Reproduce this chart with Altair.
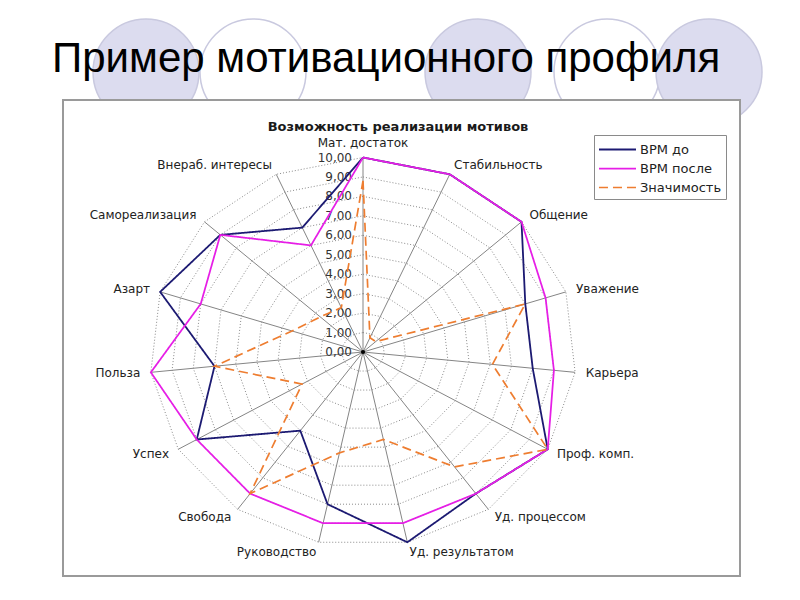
import altair as alt
import pandas as pd

# ---------------- data ----------------
categories = ["Мат. достаток", "Стабильность", "Общение", "Уважение", "Карьера",
              "Проф. комп.", "Уд. процессом", "Уд. результатом", "Руководство",
              "Свобода", "Успех", "Польза", "Азарт", "Самореализация",
              "Внераб. интересы"]
vrm_do = [10, 10, 10, 8, 8, 10, 9, 10, 8, 5, 9, 7, 10, 9, 7]
vrm_posle = [10, 10, 10, 9, 9, 10, 9, 9, 9, 9, 9, 10, 8, 9, 6]
znachimost = [8.8, 0.8, 0.8, 8.0, 6.1, 10, 7.3, 4.6, 5.3, 9.0, 3.3, 7.0, 3.5, 2.7, 2.5]
series_names = ["ВРМ до", "ВРМ после", "Значимость"]
series_colors = ["#1c1a72", "#e61ee6", "#ee7d30"]
tick_values = list(range(0, 11))
ring_levels = list(range(1, 11))
slide_title = "Пример мотивационного профиля"
chart_title = "Возможность реализации мотивов"

N = len(categories)
FONT = "DejaVu Sans"

# ---------------- tables ----------------
line_rows = []
for s, vals in zip(series_names, [vrm_do, vrm_posle, znachimost]):
    for i in range(N + 1):
        k = i % N
        line_rows.append({"series": s, "order": i, "k": k, "value": vals[k]})
lines_df = pd.DataFrame(line_rows)

ring_rows = []
for r in ring_levels:
    for i in range(N + 1):
        ring_rows.append({"ring": r, "order": i, "k": i % N, "value": r})
rings_df = pd.DataFrame(ring_rows)

spokes_df = pd.DataFrame({"k": list(range(N)), "value": [max(ring_levels)] * N})
labels_df = pd.DataFrame({"k": list(range(N)), "name": categories})
ticks_df = pd.DataFrame({"value": tick_values})
center_df = pd.DataFrame({"value": [0]})

W, H = 677, 476
xs = alt.Scale(domain=[-300 / 21.33, (W - 300) / 21.33], nice=False, zero=False)
ys = alt.Scale(domain=[-(H - 252) / 19.45, 252 / 19.45], nice=False, zero=False)

ANG = "datum.k * 2 * PI / 15"


def polar(ch, rexpr="datum.value"):
    return ch.transform_calculate(
        px=f"({rexpr}) * sin({ANG})",
        py=f"({rexpr}) * cos({ANG})",
    )


X = alt.X("px:Q", scale=xs, axis=None)
Y = alt.Y("py:Q", scale=ys, axis=None)

# decorative slide circles (background only)
deco = []
for cx, filled in [(83, True), (190, False), (415, True), (544, False), (646, True)]:
    deco.append(
        alt.Chart(center_df).mark_point(
            shape="circle", size=11236, filled=filled,
            fill="#dcdcef" if filled else None,
            stroke="#c9c9df", strokeWidth=1.5, opacity=1,
        ).encode(x=alt.value(cx), y=alt.value(-28))
    )

frame = alt.Chart(center_df).mark_rect(
    fill="white", stroke="#9a9a9a", strokeWidth=2
).encode(x=alt.value(0), x2=alt.value(W), y=alt.value(0), y2=alt.value(H))

title_txt = alt.Chart(center_df).mark_text(
    text=slide_title, font="Liberation Sans", fontSize=42, align="left",
    baseline="alphabetic", color="black"
).encode(x=alt.value(-11), y=alt.value(-28))

chart_title_txt = alt.Chart(center_df).mark_text(
    text=chart_title, font=FONT, fontSize=13, fontWeight="bold",
    align="center", baseline="middle", color="#1a1a1a"
).encode(x=alt.value(335), y=alt.value(27))

rings = polar(alt.Chart(rings_df)).mark_line(
    color="#8a8a8a", strokeWidth=1, strokeDash=[1, 2]
).encode(x=X, y=Y, detail="ring:N", order="order:Q")

spokes = polar(alt.Chart(spokes_df)).transform_calculate(zero="0").mark_rule(
    color="#858585", strokeWidth=1
).encode(x=alt.X("zero:Q", scale=xs, axis=None), y=alt.Y("zero:Q", scale=ys, axis=None),
         x2="px:Q", y2="py:Q")

ticks = alt.Chart(ticks_df).transform_calculate(
    px="0", py="datum.value",
    lab="replace(format(datum.value, '.2f'), '.', ',')"
).mark_text(font=FONT, fontSize=12, align="right", baseline="middle",
            dx=-11, color="#333333").encode(x=X, y=Y, text="lab:N")

lab_base = polar(alt.Chart(labels_df), "10.5").transform_calculate(
    s=f"sin({ANG})"
)
lab_left = lab_base.transform_filter("datum.s > 0.05").mark_text(
    font=FONT, fontSize=12, align="left", baseline="middle", color="#222222"
).encode(x=X, y=Y, text="name:N")
lab_right = lab_base.transform_filter("datum.s < -0.05").mark_text(
    font=FONT, fontSize=12, align="right", baseline="middle", color="#222222"
).encode(x=X, y=Y, text="name:N")
lab_center = lab_base.transform_filter("abs(datum.s) <= 0.05").mark_text(
    font=FONT, fontSize=12, align="center", baseline="bottom", dy=2, color="#222222"
).encode(x=X, y=Y, text="name:N")

lines = polar(alt.Chart(lines_df)).mark_line().encode(
    x=X, y=Y, order="order:Q",
    color=alt.Color("series:N", scale=alt.Scale(domain=series_names, range=series_colors),
                    legend=alt.Legend(title=None, orient="none", legendX=531, legendY=35,
                                      symbolType="M-1.95,0H1.95", symbolSize=361,
                                      symbolStrokeWidth=2, symbolOffset=9,
                                      labelFont=FONT,
                                      labelFontSize=13, labelColor="#222222",
                                      strokeColor="#8a8a8a", fillColor="white",
                                      padding=4, rowPadding=1, labelOffset=12,
                                      labelLimit=200)),
    strokeDash=alt.StrokeDash("series:N",
                              scale=alt.Scale(domain=series_names,
                                              range=[[1, 0], [1, 0], [9, 5]])),
    strokeWidth=alt.StrokeWidth("series:N",
                                scale=alt.Scale(domain=series_names, range=[1.8, 1.7, 2.5]),
                                legend=None),
)

center_dot = alt.Chart(center_df).transform_calculate(px="0", py="0").mark_point(
    filled=True, color="black", size=18, opacity=1
).encode(x=X, y=Y)

chart = alt.layer(
    *deco, frame, title_txt, chart_title_txt, rings, spokes, ticks,
    lab_left, lab_right, lab_center, lines, center_dot
).properties(
    width=W, height=H,
    padding={"left": 55, "top": 92, "right": 50, "bottom": 12},
    autosize=alt.AutoSizeParams(type="none"),
    background="white",
).configure_view(stroke=None)

chart.save("out.html", embed_options={"renderer": "svg", "actions": False})
